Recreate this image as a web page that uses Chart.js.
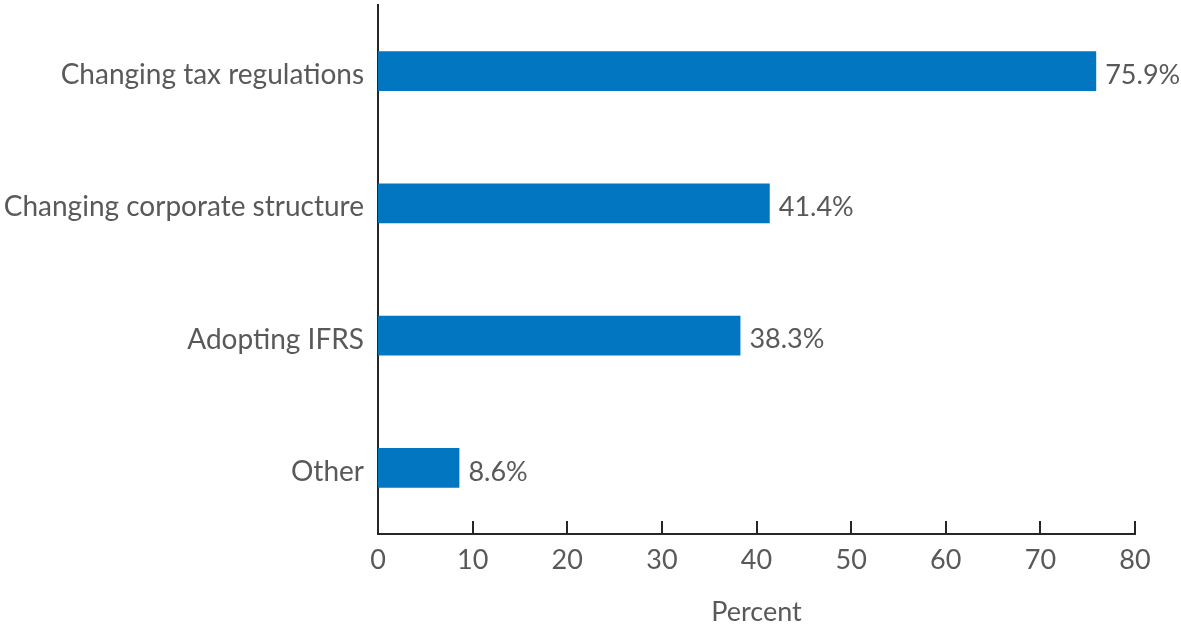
<!DOCTYPE html>
<html lang="en">
<head>
    <meta charset="UTF-8">
    <title>Reasons</title>
    <style>
        body { margin: 0; background: #ffffff; }
        #wrap { width: 1181px; height: 626px; }
    </style>
</head>
<body>
    <div id="wrap"><canvas id="myChart" width="1181" height="626"></canvas></div>

    <script src="https://cdn.jsdelivr.net/npm/chart.js"></script>
    <script>
        // data
        const categories = ['Changing tax regulations', 'Changing corporate structure', 'Adopting IFRS', 'Other'];
        const values = [75.9, 41.4, 38.3, 8.6];
        const valueLabels = ['75.9%', '41.4%', '38.3%', '8.6%'];
        const xTicks = [0, 10, 20, 30, 40, 50, 60, 70, 80];

        const textColor = '#595959';
        const axisColor = '#262626';
        const fontFamily = 'Lato, "Open Sans", sans-serif';

        // value labels at the end of each bar
        const barLabels = {
            id: 'barLabels',
            afterDatasetsDraw(chart) {
                const ctx = chart.ctx;
                const meta = chart.getDatasetMeta(0);
                ctx.save();
                ctx.font = '27px ' + fontFamily;
                ctx.fillStyle = textColor;
                ctx.textAlign = 'left';
                ctx.textBaseline = 'middle';
                meta.data.forEach((bar, i) => {
                    ctx.fillText(valueLabels[i], bar.x + 9, bar.y + 4);
                });
                ctx.restore();
            }
        };

        // tick marks pointing up into the plot
        const innerTicks = {
            id: 'innerTicks',
            afterDraw(chart) {
                const ctx = chart.ctx;
                const xs = chart.scales.x;
                const bottom = chart.chartArea.bottom;
                ctx.save();
                ctx.strokeStyle = axisColor;
                ctx.lineWidth = 2;
                xs.ticks.forEach((t, i) => {
                    if (i === 0) return;
                    const x = Math.round(xs.getPixelForTick(i));
                    ctx.beginPath();
                    ctx.moveTo(x, bottom);
                    ctx.lineTo(x, bottom - 13);
                    ctx.stroke();
                });
                ctx.restore();
            }
        };

        const ctx = document.getElementById('myChart').getContext('2d');
        new Chart(ctx, {
            type: 'bar',
            data: {
                labels: categories,
                datasets: [{
                    data: values,
                    backgroundColor: '#0276c0',
                    borderWidth: 0,
                    categoryPercentage: 1,
                    barPercentage: 0.3
                }]
            },
            options: {
                indexAxis: 'y',
                responsive: false,
                animation: false,
                layout: { padding: { top: 5, right: 46, bottom: 0, left: 0 } },
                plugins: {
                    legend: { display: false },
                    tooltip: { enabled: false }
                },
                scales: {
                    x: {
                        min: 0,
                        max: 80,
                        afterBuildTicks: (s) => { s.ticks = xTicks.map(v => ({ value: v })); },
                        afterFit: (s) => { s.height = 92; },
                        grid: { display: false, drawTicks: false },
                        border: { display: true, color: axisColor, width: 2 },
                        ticks: {
                            color: textColor,
                            padding: 10,
                            font: { family: fontFamily, size: 27 }
                        },
                        title: {
                            display: true,
                            text: 'Percent',
                            color: textColor,
                            padding: { top: 10, bottom: 0 },
                            font: { family: fontFamily, size: 27, lineHeight: 1 }
                        }
                    },
                    y: {
                        afterFit: (s) => {
                            s.width = 378;
                            s.paddingTop = 0;
                            s.paddingBottom = 0;
                        },
                        grid: { display: false, drawTicks: false },
                        border: { display: true, color: axisColor, width: 2 },
                        ticks: {
                            color: textColor,
                            padding: 14,
                            labelOffset: 4,
                            font: { family: fontFamily, size: 28 }
                        }
                    }
                }
            },
            plugins: [barLabels, innerTicks]
        });
    </script>
</body>
</html>
